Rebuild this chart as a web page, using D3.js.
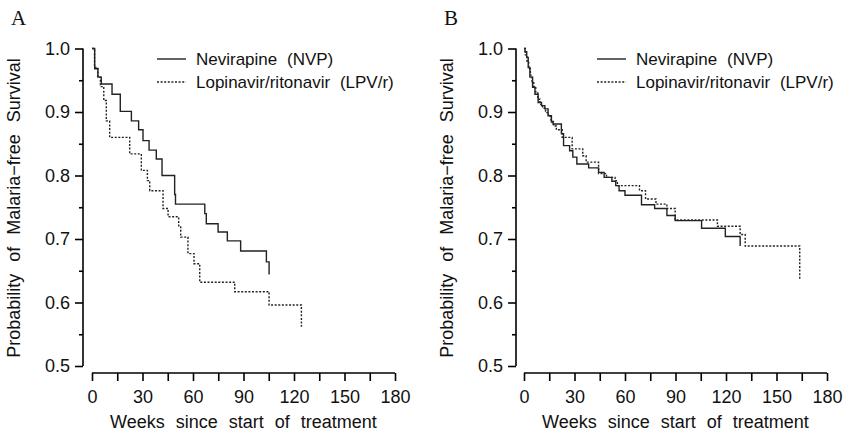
<!DOCTYPE html>
<html>
<head>
<meta charset="utf-8">
<script src="https://cdn.jsdelivr.net/npm/d3@7"></script>
<style>
  body { margin: 0; background: #fff; }
  text { font-family: "Liberation Sans", Arial, sans-serif; fill: #111; }
</style>
</head>
<body>
<div id="chart"></div>
<script>
const width = 844, height = 434;

// Panel A: Kaplan-Meier steps (weeks, survival after the step)
const aWeeksNVP = [0, 1.6, 3.5, 5.5, 11.9, 16.8, 23.4, 27.7, 30.3, 33.9, 38.2, 41.6, 49.1, 49.6, 67, 67.9, 74.9, 80.4, 88.3, 103.6, 105.2];
const aSurvNVP  = [1, 0.968, 0.955, 0.944, 0.928, 0.901, 0.886, 0.872, 0.855, 0.840, 0.826, 0.800, 0.770, 0.755, 0.740, 0.724, 0.711, 0.697, 0.681, 0.664, 0.644];
const aWeeksLPV = [0, 1.5, 3.5, 5, 7, 8.5, 10.5, 22.4, 29.3, 32.9, 34.3, 42.2, 45.2, 51.5, 52.7, 57, 60.6, 64, 84.8, 105.2, 124.4];
const aSurvLPV  = [1, 0.970, 0.955, 0.940, 0.918, 0.886, 0.860, 0.834, 0.808, 0.792, 0.776, 0.748, 0.735, 0.719, 0.703, 0.677, 0.661, 0.632, 0.617, 0.596, 0.562];

// Panel B
const bWeeksNVP = [0, 0.6, 1.6, 2.5, 3.5, 5.1, 6.5, 8.4, 10.4, 12.4, 14.3, 16.3, 17.3, 22.2, 23.5, 27.1, 29, 31.4, 38.4, 44.3, 47.6, 52.2, 54.5, 56.5, 60, 69.8, 77.6, 84.9, 89.8, 105.5, 119.6, 128.4];
const bSurvNVP  = [1, 0.995, 0.986, 0.970, 0.955, 0.939, 0.928, 0.915, 0.910, 0.905, 0.894, 0.884, 0.881, 0.866, 0.847, 0.839, 0.829, 0.818, 0.812, 0.805, 0.797, 0.791, 0.784, 0.776, 0.769, 0.754, 0.748, 0.737, 0.729, 0.717, 0.704, 0.689];
const bWeeksLPV = [0, 0.8, 1.8, 2.8, 3.8, 4.8, 5.8, 7, 8.2, 9.5, 11, 12.8, 14.5, 16, 17.5, 19.2, 22.7, 28.6, 34.9, 36.9, 44.3, 49, 54.1, 55.5, 68.6, 72.2, 78.4, 84.9, 89.8, 114.9, 128.4, 131.4, 163.8];
const bSurvLPV  = [1, 0.990, 0.980, 0.968, 0.958, 0.948, 0.940, 0.930, 0.920, 0.912, 0.906, 0.899, 0.893, 0.885, 0.878, 0.872, 0.860, 0.842, 0.831, 0.821, 0.803, 0.797, 0.792, 0.784, 0.776, 0.763, 0.755, 0.748, 0.730, 0.720, 0.707, 0.689, 0.636];

const xTicks = [0, 30, 60, 90, 120, 150, 180];
const xMinorTicks = d3.range(0, 181, 15);
const yTicks = [0.5, 0.6, 0.7, 0.8, 0.9, 1.0];
const yMinorTicks = [0.55, 0.65, 0.75, 0.85, 0.95];
const groupNames = ["Nevirapine (NVP)", "Lopinavir/ritonavir (LPV/r)"];

const svg = d3.select("#chart")
    .append("svg")
    .attr("width", width)
    .attr("height", height);

const panels = [
    { label: "A", yAxisX: 83, xRange: [92, 395], legendX: 157,
      series: [[aWeeksNVP, aSurvNVP], [aWeeksLPV, aSurvLPV]] },
    { label: "B", yAxisX: 516, xRange: [524, 827], legendX: 597,
      series: [[bWeeksNVP, bSurvNVP], [bWeeksLPV, bSurvLPV]] }
];

const axisY = 373;
const dashes = [null, "2,1.6"];

panels.forEach(p => {
    const g = svg.append("g");
    const x = d3.scaleLinear().domain([0, 180]).range(p.xRange);
    const y = d3.scaleLinear().domain([0.5, 1.0]).range([366, 48.5]);

    // panel letter
    g.append("text")
        .attr("x", p.yAxisX - 72)
        .attr("y", 25)
        .style("font-family", "'Liberation Serif', 'Times New Roman', serif")
        .style("font-size", "21px")
        .text(p.label);

    // y axis
    const yAxis = g.append("g").attr("transform", `translate(${p.yAxisX},0)`);
    yAxis.call(d3.axisLeft(y).tickValues(yTicks).tickFormat(d3.format(".1f")).tickSize(8).tickPadding(5));
    yAxis.append("g").call(d3.axisLeft(y).tickValues(yMinorTicks).tickFormat("").tickSize(4));
    yAxis.selectAll(".domain").remove();
    yAxis.append("line").attr("y1", y(1.0)).attr("y2", y(0.5)).attr("stroke", "#000").attr("stroke-width", 1.6);
    yAxis.selectAll(".tick line").attr("stroke", "#000").attr("stroke-width", 1.6);
    yAxis.selectAll(".tick text").style("font-size", "18px").attr("fill", "#111");

    // x axis
    const xAxis = g.append("g").attr("transform", `translate(0,${axisY})`);
    xAxis.call(d3.axisBottom(x).tickValues(xMinorTicks)
        .tickFormat(d => xTicks.includes(d) ? d : "").tickSize(8).tickPadding(9));
    xAxis.selectAll(".domain").remove();
    xAxis.append("line").attr("x1", x(0)).attr("x2", x(180)).attr("stroke", "#000").attr("stroke-width", 1.6);
    xAxis.selectAll(".tick line").attr("stroke", "#000").attr("stroke-width", 1.6);
    xAxis.selectAll(".tick text").style("font-size", "18px").attr("fill", "#111");

    // axis titles
    g.append("text")
        .attr("x", (p.xRange[0] + p.xRange[1]) / 2)
        .attr("y", 428)
        .attr("text-anchor", "middle")
        .style("font-size", "18px")
        .style("word-spacing", "6px")
        .text("Weeks since start of treatment");

    g.append("text")
        .attr("transform", `translate(${p.yAxisX - 63},208) rotate(-90)`)
        .attr("text-anchor", "middle")
        .style("font-size", "18px")
        .style("word-spacing", "7px")
        .text("Probability of Malaria\u2212free Survival");

    // survival curves
    const line = d3.line()
        .x(d => x(d[0]))
        .y(d => y(d[1]))
        .curve(d3.curveStepAfter);

    p.series.forEach((s, i) => {
        const pts = s[0].map((w, k) => [w, s[1][k]]);
        g.append("path")
            .datum(pts)
            .attr("fill", "none")
            .attr("stroke", "#222")
            .attr("stroke-width", 1.4)
            .attr("stroke-dasharray", dashes[i])
            .attr("d", line);
    });

    // legend
    groupNames.forEach((name, i) => {
        const ly = 59 + i * 23;
        g.append("line")
            .attr("x1", p.legendX).attr("x2", p.legendX + 29)
            .attr("y1", ly).attr("y2", ly)
            .attr("stroke", "#222").attr("stroke-width", 1.4)
            .attr("stroke-dasharray", dashes[i]);
        g.append("text")
            .attr("x", p.legendX + 39)
            .attr("y", ly + 6)
            .style("font-size", "17px")
            .style("word-spacing", "5px")
            .text(name);
    });
});
</script>
</body>
</html>
